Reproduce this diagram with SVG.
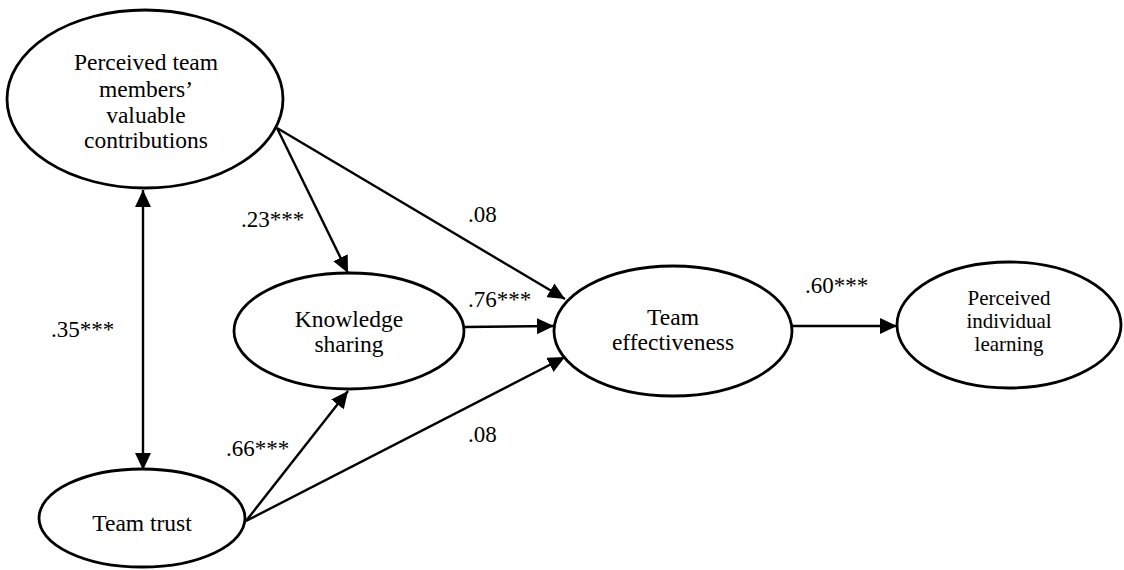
<svg xmlns="http://www.w3.org/2000/svg" width="1124" height="570" viewBox="0 0 1124 570">
<style>
text{font-family:'Times New Roman','Liberation Serif','DejaVu Serif',serif}
.node{fill:#fff;stroke:#000;stroke-width:2.8}
.t{font-size:23.5px;fill:#000;text-anchor:middle}
.s{font-size:21px}
.lbl{font-size:23px;fill:#000}
.edge{stroke:#000;stroke-width:2.4;fill:none;marker-end:url(#ah)}
</style>
<defs>
<marker id="ah" markerUnits="userSpaceOnUse" markerWidth="17" markerHeight="16" refX="17" refY="8" orient="auto-start-reverse">
<path d="M0,0 L17,8 L0,16 z" fill="#000"/>
</marker>
</defs>
<g id="connectors">
<line class="edge" x1="143" y1="190" x2="143" y2="470" style="marker-start:url(#ah)"/>
<line class="edge" x1="277" y1="128" x2="348" y2="273"/>
<line class="edge" x1="277" y1="128" x2="565" y2="299"/>
<line class="edge" x1="464" y1="327" x2="554" y2="326"/>
<line class="edge" x1="246" y1="521" x2="348" y2="391"/>
<line class="edge" x1="246" y1="521" x2="565" y2="357"/>
<line class="edge" x1="792" y1="326" x2="897" y2="326"/>
</g>
<g id="labels">
<text class="lbl" x="241" y="227">.23***</text>
<text class="lbl" x="468" y="222">.08</text>
<text class="lbl" x="468" y="307">.76***</text>
<text class="lbl" x="51" y="337">.35***</text>
<text class="lbl" x="226" y="456">.66***</text>
<text class="lbl" x="468" y="442">.08</text>
<text class="lbl" x="805" y="293">.60***</text>
</g>
<g id="n-contrib">
<ellipse class="node" cx="145" cy="99" rx="138" ry="89"/>
<text class="t" x="146" y="70">Perceived team</text>
<text class="t" x="146" y="97">members’</text>
<text class="t" x="146" y="123">valuable</text>
<text class="t" x="146" y="148">contributions</text>
</g>
<g id="n-ks">
<ellipse class="node" cx="349" cy="331" rx="115" ry="58"/>
<text class="t" x="349" y="327">Knowledge</text>
<text class="t" x="349" y="352">sharing</text>
</g>
<g id="n-te">
<ellipse class="node" cx="673" cy="331" rx="119" ry="65"/>
<text class="t" x="673" y="325">Team</text>
<text class="t" x="673" y="350">effectiveness</text>
</g>
<g id="n-pil">
<ellipse class="node" cx="1009" cy="325" rx="112" ry="63"/>
<text class="t s" x="1009" y="305">Perceived</text>
<text class="t s" x="1009" y="328">individual</text>
<text class="t s" x="1009" y="351">learning</text>
</g>
<g id="n-tt">
<ellipse class="node" cx="142" cy="518" rx="103" ry="49"/>
<text class="t" x="142" y="531">Team trust</text>
</g>
</svg>
